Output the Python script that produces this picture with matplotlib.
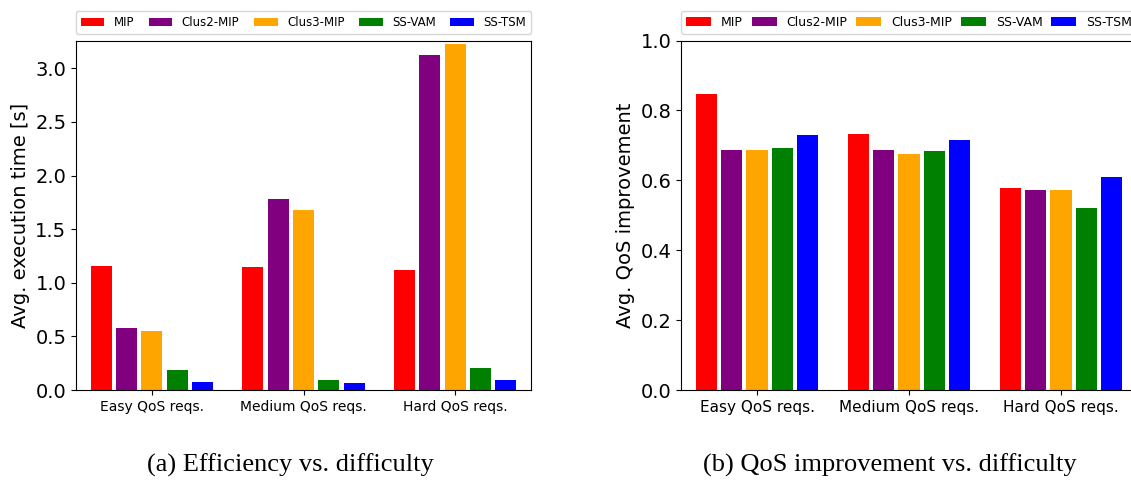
import matplotlib
matplotlib.use("Agg")
import matplotlib.pyplot as plt
import numpy as np

groups = ["Easy QoS reqs.", "Medium QoS reqs.", "Hard QoS reqs."]
methods = ["MIP", "Clus2-MIP", "Clus3-MIP", "SS-VAM", "SS-TSM"]
colors = ["red", "purple", "orange", "green", "blue"]

# avg. execution time [s], one list per method (easy, medium, hard)
time_mip = [1.156, 1.147, 1.119]
time_clus2 = [0.578, 1.781, 3.124]
time_clus3 = [0.550, 1.679, 3.227]
time_vam = [0.187, 0.093, 0.205]
time_tsm = [0.078, 0.068, 0.093]

# avg. QoS improvement
qos_mip = [0.847, 0.733, 0.578]
qos_clus2 = [0.687, 0.687, 0.573]
qos_clus3 = [0.687, 0.676, 0.573]
qos_vam = [0.693, 0.684, 0.521]
qos_tsm = [0.730, 0.716, 0.610]

times = [time_mip, time_clus2, time_clus3, time_vam, time_tsm]
qos = [qos_mip, qos_clus2, qos_clus3, qos_vam, qos_tsm]

W, H = 1131, 480
fig = plt.figure(figsize=(W / 100, H / 100), dpi=100)

pitch = 0.167
width = 0.14
x = np.arange(len(groups))


def draw(ax, data, ylabel, ylim, yticks, xsize, legsize):
    for i, (vals, c, name) in enumerate(zip(data, colors, methods)):
        ax.bar(x + (i - 2) * pitch, vals, width, color=c, label=name)
    ax.set_xlim(-0.5, 2.5)
    ax.set_ylim(*ylim)
    ax.set_yticks(yticks)
    ax.set_xticks(x)
    ax.set_xticklabels(groups, fontsize=xsize)
    ax.tick_params(axis="y", labelsize=14)
    ax.set_ylabel(ylabel, fontsize=14)
    ax.legend(bbox_to_anchor=(0, 1.02, 1, 0.1), loc="lower left", ncol=5,
              mode="expand", borderaxespad=0, fontsize=legsize)


ax1 = fig.add_axes([76 / W, 90 / H, (531 - 76) / W, 349.5 / H])
draw(ax1, times, "Avg. execution time [s]", (0, 3.26), np.arange(0, 3.01, 0.5), 10, 8.5)

ax2 = fig.add_axes([681 / W, 90 / H, (1137 - 681) / W, 349.5 / H])
draw(ax2, qos, "Avg. QoS improvement", (0, 1.0), np.arange(0, 1.01, 0.2), 11, 9)

fig.text(290 / W, 1 - 465 / H, "(a) Efficiency vs. difficulty", ha="center",
         va="center", fontsize=19, family="Liberation Serif")
fig.text(890 / W, 1 - 465 / H, "(b) QoS improvement vs. difficulty", ha="center",
         va="center", fontsize=19, family="Liberation Serif")

fig.savefig("out.png", dpi=100)
